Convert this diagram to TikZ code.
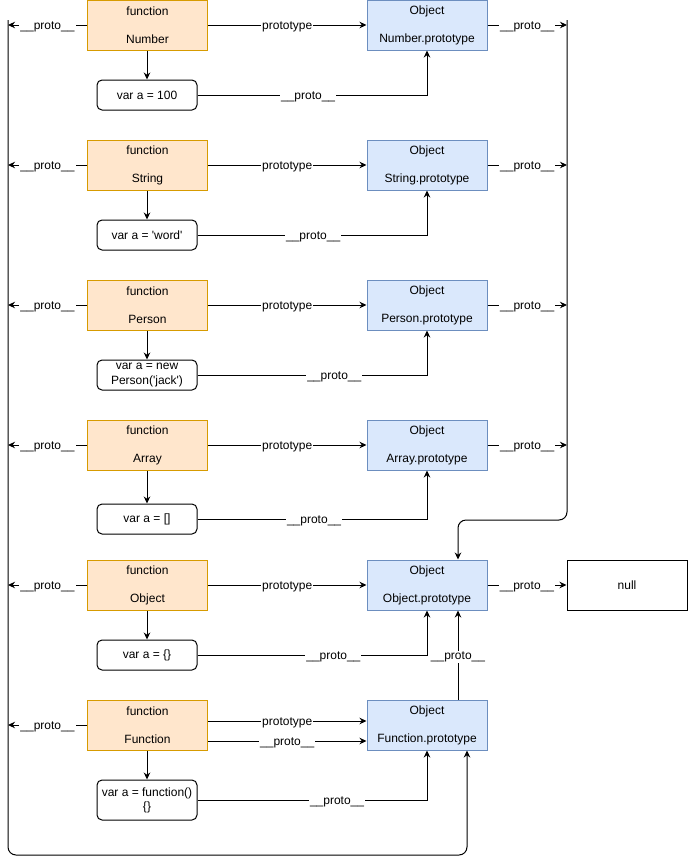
\documentclass[tikz,border=0pt]{standalone}
\usepackage{fontspec}
\setmainfont{Liberation Sans}
\usetikzlibrary{arrows.meta}
\definecolor{fnfill}{HTML}{FFE6CC}
\definecolor{fnborder}{HTML}{D79B00}
\definecolor{obfill}{HTML}{DAE8FC}
\definecolor{obborder}{HTML}{6C8EBF}
\begin{document}
\begin{tikzpicture}[x=1pt,y=-1pt,line width=1pt,
  every node/.style={font=\fontsize{12}{14}\selectfont},
  fnbox/.style={draw=fnborder,fill=fnfill,minimum width=120pt,minimum height=50pt,inner sep=0pt,align=center},
  obbox/.style={draw=obborder,fill=obfill,minimum width=120pt,minimum height=50pt,inner sep=0pt,align=center},
  varbox/.style={draw,fill=white,rounded corners=5pt,minimum width=100pt,minimum height=30pt,inner sep=0pt,align=center},
  nullbox/.style={draw,fill=white,minimum width=120pt,minimum height=50pt,inner sep=0pt},
  arr/.style={-{Stealth[length=7pt,width=6.5pt]}},
  lbl/.style={fill=white,inner sep=1pt,yshift=-2pt}]
\useasboundingbox (0,0) rectangle (688,865);

% long loops
\coordinate (LT) at (8,20);
\coordinate (RT) at (567,20);

% function boxes
\node[fnbox] (fn1) at (147.5,25) {function\\[14pt]Number};
\node[fnbox] (fn2) at (147.5,165) {function\\[14pt]String};
\node[fnbox] (fn3) at (147.5,305) {function\\[14pt]Person};
\node[fnbox] (fn4) at (147.5,445) {function\\[14pt]Array};
\node[fnbox] (fn5) at (147.5,585) {function\\[14pt]Object};
\node[fnbox] (fn6) at (147.5,725) {function\\[14pt]Function};

% object boxes
\node[obbox] (ob1) at (427,25) {Object\\[14pt]Number.prototype};
\node[obbox] (ob2) at (427,165) {Object\\[14pt]String.prototype};
\node[obbox] (ob3) at (427,305) {Object\\[14pt]Person.prototype};
\node[obbox] (ob4) at (427,445) {Object\\[14pt]Array.prototype};
\node[obbox] (ob5) at (427,585) {Object\\[14pt]Object.prototype};
\node[obbox] (ob6) at (427,725) {Object\\[14pt]Function.prototype};

\node[nullbox] (null) at (627,585) {null};

% var boxes
\node[varbox] (v1) at (147,95) {var a = 100};
\node[varbox] (v2) at (147,235) {var a = \textquotesingle word\textquotesingle};
\node[varbox,font=\fontsize{12}{15}\selectfont] (v3) at (147,375) {var a = new\\Person(\textquotesingle jack\textquotesingle)};
\node[varbox] (v4) at (147,519) {var a = []};
\node[varbox] (v5) at (147,655) {var a = \{\}};
\node[varbox,minimum height=40pt] (v6) at (147,800) {var a = function()\\\{\}};

% left proto coordinates
\foreach \i/\y in {1/25,2/165,3/305,4/445,5/585,6/725}{
  \coordinate (L\i) at (8,\y);
}
\foreach \i/\y in {1/25,2/165,3/305,4/445}{
  \coordinate (R\i) at (567,\y);
}

% left arrows
\foreach \i in {1,...,6}{
  \draw[arr] (fn\i.west) -- node[lbl]{\_\_proto\_\_} (L\i);
}
% right arrows
\foreach \i in {1,...,4}{
  \draw[arr] (ob\i.east) -- node[lbl]{\_\_proto\_\_} (R\i);
}
\draw[arr] (ob5.east) -- node[lbl]{\_\_proto\_\_} (null.west);

% prototype arrows
\foreach \i in {1,...,5}{
  \draw[arr] (fn\i.east) -- node[lbl]{prototype} (ob\i.west);
}
\draw[arr] ([yshift=4pt]fn6.east) -- node[lbl]{prototype} ([yshift=4pt]ob6.west);
\draw[arr] ([yshift=-16pt]fn6.east) -- node[lbl]{\_\_proto\_\_} ([yshift=-16pt]ob6.west);

% function -> var
\foreach \i in {1,...,6}{
  \draw[arr] (fn\i.south -| v\i.north) -- (v\i.north);
}

% var -> object prototype
\draw[arr] (v1.east) -| node[lbl,pos=0.241]{\_\_proto\_\_} (ob1.south);
\draw[arr] (v2.east) -| node[lbl,pos=0.252]{\_\_proto\_\_} (ob2.south);
\draw[arr] (v3.east) -| node[lbl,pos=0.298]{\_\_proto\_\_} (ob3.south);
\draw[arr] (v4.east) -| node[lbl,pos=0.254]{\_\_proto\_\_} (ob4.south);
\draw[arr] (v5.east) -| node[lbl,pos=0.296]{\_\_proto\_\_} (ob5.south);
\draw[arr] (v6.east) -| node[lbl,pos=0.304]{\_\_proto\_\_} (ob6.south);

% Function.prototype -> Object.prototype
\draw[arr] ([xshift=31pt]ob6.north) -- node[lbl]{\_\_proto\_\_} ([xshift=31pt]ob5.south);

% left loop
\draw[arr,rounded corners=8pt] (LT) -- (8,855) -- (467,855) -- ([xshift=40pt]ob6.south);
% right loop
\draw[arr,rounded corners=8pt] (RT) -- (567,520) -- (458,520) -- ([xshift=31pt]ob5.north);
\end{tikzpicture}
\end{document}
